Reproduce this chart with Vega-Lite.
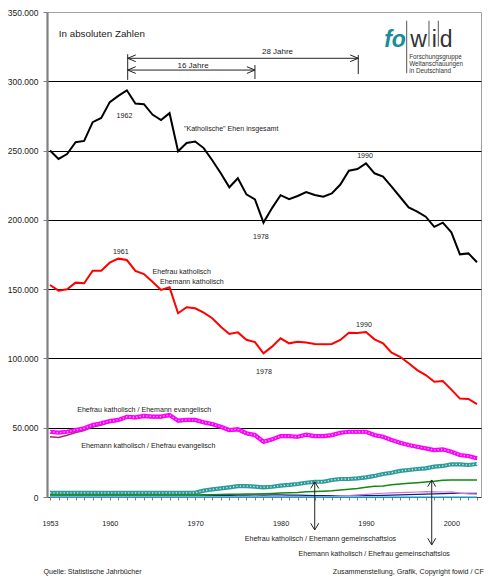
{
  "$schema": "https://vega.github.io/schema/vega-lite/v6.json",
  "width": 434,
  "height": 485,
  "autosize": {"type": "none"},
  "padding": {"left": 47, "top": 12, "right": 19, "bottom": 83},
  "background": "white",
  "config": {
    "font": "Liberation Sans",
    "view": {"stroke": "#a0a0a0", "strokeWidth": 1}
  },
  "datasets": {
    "lines": [
      {"series":"gesamt","year":1953,"value":250000},{"series":"gesamt","year":1954,"value":244000},{"series":"gesamt","year":1955,"value":247500},{"series":"gesamt","year":1956,"value":256000},{"series":"gesamt","year":1957,"value":257000},{"series":"gesamt","year":1958,"value":270500},{"series":"gesamt","year":1959,"value":273500},{"series":"gesamt","year":1960,"value":285000},{"series":"gesamt","year":1961,"value":289500},{"series":"gesamt","year":1962,"value":293500},{"series":"gesamt","year":1963,"value":284000},{"series":"gesamt","year":1964,"value":283500},{"series":"gesamt","year":1965,"value":276000},{"series":"gesamt","year":1966,"value":272000},{"series":"gesamt","year":1967,"value":277000},{"series":"gesamt","year":1968,"value":249500},{"series":"gesamt","year":1969,"value":255500},{"series":"gesamt","year":1970,"value":256500},{"series":"gesamt","year":1971,"value":251800},{"series":"gesamt","year":1972,"value":243000},{"series":"gesamt","year":1973,"value":233600},{"series":"gesamt","year":1974,"value":223500},{"series":"gesamt","year":1975,"value":230000},{"series":"gesamt","year":1976,"value":218400},{"series":"gesamt","year":1977,"value":214800},{"series":"gesamt","year":1978,"value":198000},{"series":"gesamt","year":1979,"value":208500},{"series":"gesamt","year":1980,"value":217800},{"series":"gesamt","year":1981,"value":215000},{"series":"gesamt","year":1982,"value":217200},{"series":"gesamt","year":1983,"value":220000},{"series":"gesamt","year":1984,"value":218000},{"series":"gesamt","year":1985,"value":216700},{"series":"gesamt","year":1986,"value":219100},{"series":"gesamt","year":1987,"value":225500},{"series":"gesamt","year":1988,"value":235500},{"series":"gesamt","year":1989,"value":236700},{"series":"gesamt","year":1990,"value":240800},{"series":"gesamt","year":1991,"value":233600},{"series":"gesamt","year":1992,"value":231300},{"series":"gesamt","year":1993,"value":224000},{"series":"gesamt","year":1994,"value":216500},{"series":"gesamt","year":1995,"value":209000},{"series":"gesamt","year":1996,"value":205900},{"series":"gesamt","year":1997,"value":202300},{"series":"gesamt","year":1998,"value":195000},{"series":"gesamt","year":1999,"value":198000},{"series":"gesamt","year":2000,"value":191000},{"series":"gesamt","year":2001,"value":175100},{"series":"gesamt","year":2002,"value":175800},{"series":"gesamt","year":2003,"value":169400},
      {"series":"kk","year":1953,"value":153000},{"series":"kk","year":1954,"value":148900},{"series":"kk","year":1955,"value":149900},{"series":"kk","year":1956,"value":154700},{"series":"kk","year":1957,"value":154200},{"series":"kk","year":1958,"value":163300},{"series":"kk","year":1959,"value":163300},{"series":"kk","year":1960,"value":169100},{"series":"kk","year":1961,"value":172000},{"series":"kk","year":1962,"value":171000},{"series":"kk","year":1963,"value":163100},{"series":"kk","year":1964,"value":160900},{"series":"kk","year":1965,"value":155400},{"series":"kk","year":1966,"value":149400},{"series":"kk","year":1967,"value":151300},{"series":"kk","year":1968,"value":132600},{"series":"kk","year":1969,"value":136900},{"series":"kk","year":1970,"value":136200},{"series":"kk","year":1971,"value":133000},{"series":"kk","year":1972,"value":129000},{"series":"kk","year":1973,"value":122900},{"series":"kk","year":1974,"value":117600},{"series":"kk","year":1975,"value":118800},{"series":"kk","year":1976,"value":113500},{"series":"kk","year":1977,"value":111800},{"series":"kk","year":1978,"value":103700},{"series":"kk","year":1979,"value":108500},{"series":"kk","year":1980,"value":114500},{"series":"kk","year":1981,"value":110900},{"series":"kk","year":1982,"value":112100},{"series":"kk","year":1983,"value":111500},{"series":"kk","year":1984,"value":110500},{"series":"kk","year":1985,"value":110200},{"series":"kk","year":1986,"value":110400},{"series":"kk","year":1987,"value":113300},{"series":"kk","year":1988,"value":118600},{"series":"kk","year":1989,"value":118300},{"series":"kk","year":1990,"value":119100},{"series":"kk","year":1991,"value":113800},{"series":"kk","year":1992,"value":110900},{"series":"kk","year":1993,"value":104100},{"series":"kk","year":1994,"value":101200},{"series":"kk","year":1995,"value":96500},{"series":"kk","year":1996,"value":91600},{"series":"kk","year":1997,"value":88000},{"series":"kk","year":1998,"value":83200},{"series":"kk","year":1999,"value":83700},{"series":"kk","year":2000,"value":77500},{"series":"kk","year":2001,"value":71000},{"series":"kk","year":2002,"value":70800},{"series":"kk","year":2003,"value":67100},
      {"series":"fe","year":1953,"value":47100},{"series":"fe","year":1954,"value":46400},{"series":"fe","year":1955,"value":47100},{"series":"fe","year":1956,"value":48300},{"series":"fe","year":1957,"value":49600},{"series":"fe","year":1958,"value":52000},{"series":"fe","year":1959,"value":53200},{"series":"fe","year":1960,"value":54800},{"series":"fe","year":1961,"value":55600},{"series":"fe","year":1962,"value":57900},{"series":"fe","year":1963,"value":57500},{"series":"fe","year":1964,"value":58500},{"series":"fe","year":1965,"value":58000},{"series":"fe","year":1966,"value":58000},{"series":"fe","year":1967,"value":59200},{"series":"fe","year":1968,"value":55100},{"series":"fe","year":1969,"value":55600},{"series":"fe","year":1970,"value":55600},{"series":"fe","year":1971,"value":53900},{"series":"fe","year":1972,"value":52700},{"series":"fe","year":1973,"value":50700},{"series":"fe","year":1974,"value":48300},{"series":"fe","year":1975,"value":48900},{"series":"fe","year":1976,"value":46000},{"series":"fe","year":1977,"value":44700},{"series":"fe","year":1978,"value":39900},{"series":"fe","year":1979,"value":41600},{"series":"fe","year":1980,"value":44000},{"series":"fe","year":1981,"value":44000},{"series":"fe","year":1982,"value":43500},{"series":"fe","year":1983,"value":45000},{"series":"fe","year":1984,"value":44000},{"series":"fe","year":1985,"value":44000},{"series":"fe","year":1986,"value":44700},{"series":"fe","year":1987,"value":46400},{"series":"fe","year":1988,"value":47100},{"series":"fe","year":1989,"value":47100},{"series":"fe","year":1990,"value":47100},{"series":"fe","year":1991,"value":44700},{"series":"fe","year":1992,"value":43500},{"series":"fe","year":1993,"value":41100},{"series":"fe","year":1994,"value":39200},{"series":"fe","year":1995,"value":37500},{"series":"fe","year":1996,"value":36300},{"series":"fe","year":1997,"value":35100},{"series":"fe","year":1998,"value":33900},{"series":"fe","year":1999,"value":34400},{"series":"fe","year":2000,"value":32700},{"series":"fe","year":2001,"value":30300},{"series":"fe","year":2002,"value":29600},{"series":"fe","year":2003,"value":27900},
      {"series":"me","year":1953,"value":43500},{"series":"me","year":1954,"value":43000},{"series":"me","year":1955,"value":44500},{"series":"me","year":1956,"value":46500},{"series":"me","year":1957,"value":48000},{"series":"me","year":1958,"value":50500},{"series":"me","year":1959,"value":52000},{"series":"me","year":1960,"value":53800},{"series":"me","year":1961,"value":54800},{"series":"me","year":1962,"value":57000},{"series":"me","year":1963,"value":56700},{"series":"me","year":1964,"value":57600},{"series":"me","year":1965,"value":57200},{"series":"me","year":1966,"value":57200},{"series":"me","year":1967,"value":58300},{"series":"me","year":1968,"value":54300},{"series":"me","year":1969,"value":54800},{"series":"me","year":1970,"value":54800},{"series":"me","year":1971,"value":53000},{"series":"me","year":1972,"value":51800},{"series":"me","year":1973,"value":49800},{"series":"me","year":1974,"value":47500},{"series":"me","year":1975,"value":48000},{"series":"me","year":1976,"value":45200},{"series":"me","year":1977,"value":43800},{"series":"me","year":1978,"value":39100},{"series":"me","year":1979,"value":40800},{"series":"me","year":1980,"value":43200},{"series":"me","year":1981,"value":43200},{"series":"me","year":1982,"value":42700},{"series":"me","year":1983,"value":44200},{"series":"me","year":1984,"value":43200},{"series":"me","year":1985,"value":43200},{"series":"me","year":1986,"value":43900},{"series":"me","year":1987,"value":45600},{"series":"me","year":1988,"value":46300},{"series":"me","year":1989,"value":46300},{"series":"me","year":1990,"value":46300},{"series":"me","year":1991,"value":43900},{"series":"me","year":1992,"value":42700},{"series":"me","year":1993,"value":40300},{"series":"me","year":1994,"value":38400},{"series":"me","year":1995,"value":36700},{"series":"me","year":1996,"value":35500},{"series":"me","year":1997,"value":34300},{"series":"me","year":1998,"value":33100},{"series":"me","year":1999,"value":33600},{"series":"me","year":2000,"value":31900},{"series":"me","year":2001,"value":29500},{"series":"me","year":2002,"value":28800},{"series":"me","year":2003,"value":27100},
      {"series":"fg","year":1953,"value":3000},{"series":"fg","year":1954,"value":3000},{"series":"fg","year":1955,"value":3000},{"series":"fg","year":1956,"value":3000},{"series":"fg","year":1957,"value":3000},{"series":"fg","year":1958,"value":3000},{"series":"fg","year":1959,"value":3000},{"series":"fg","year":1960,"value":3000},{"series":"fg","year":1961,"value":3000},{"series":"fg","year":1962,"value":3000},{"series":"fg","year":1963,"value":3000},{"series":"fg","year":1964,"value":3000},{"series":"fg","year":1965,"value":3000},{"series":"fg","year":1966,"value":3000},{"series":"fg","year":1967,"value":3000},{"series":"fg","year":1968,"value":3000},{"series":"fg","year":1969,"value":3000},{"series":"fg","year":1970,"value":3000},{"series":"fg","year":1971,"value":4600},{"series":"fg","year":1972,"value":5500},{"series":"fg","year":1973,"value":6200},{"series":"fg","year":1974,"value":7000},{"series":"fg","year":1975,"value":7900},{"series":"fg","year":1976,"value":7900},{"series":"fg","year":1977,"value":7500},{"series":"fg","year":1978,"value":7000},{"series":"fg","year":1979,"value":7400},{"series":"fg","year":1980,"value":8200},{"series":"fg","year":1981,"value":8700},{"series":"fg","year":1982,"value":9400},{"series":"fg","year":1983,"value":10300},{"series":"fg","year":1984,"value":11000},{"series":"fg","year":1985,"value":11000},{"series":"fg","year":1986,"value":12300},{"series":"fg","year":1987,"value":13000},{"series":"fg","year":1988,"value":13000},{"series":"fg","year":1989,"value":13500},{"series":"fg","year":1990,"value":14200},{"series":"fg","year":1991,"value":15200},{"series":"fg","year":1992,"value":16600},{"series":"fg","year":1993,"value":17500},{"series":"fg","year":1994,"value":18800},{"series":"fg","year":1995,"value":19500},{"series":"fg","year":1996,"value":20200},{"series":"fg","year":1997,"value":20700},{"series":"fg","year":1998,"value":21900},{"series":"fg","year":1999,"value":22400},{"series":"fg","year":2000,"value":23600},{"series":"fg","year":2001,"value":23600},{"series":"fg","year":2002,"value":23100},{"series":"fg","year":2003,"value":23800},
      {"series":"mg","year":1953,"value":1500},{"series":"mg","year":1954,"value":1500},{"series":"mg","year":1955,"value":1500},{"series":"mg","year":1956,"value":1500},{"series":"mg","year":1957,"value":1500},{"series":"mg","year":1958,"value":1500},{"series":"mg","year":1959,"value":1500},{"series":"mg","year":1960,"value":1500},{"series":"mg","year":1961,"value":1500},{"series":"mg","year":1962,"value":1500},{"series":"mg","year":1963,"value":1500},{"series":"mg","year":1964,"value":1500},{"series":"mg","year":1965,"value":1500},{"series":"mg","year":1966,"value":1500},{"series":"mg","year":1967,"value":1500},{"series":"mg","year":1968,"value":1500},{"series":"mg","year":1969,"value":1500},{"series":"mg","year":1970,"value":1500},{"series":"mg","year":1971,"value":1600},{"series":"mg","year":1972,"value":1700},{"series":"mg","year":1973,"value":1800},{"series":"mg","year":1974,"value":1900},{"series":"mg","year":1975,"value":2000},{"series":"mg","year":1976,"value":2100},{"series":"mg","year":1977,"value":2200},{"series":"mg","year":1978,"value":2300},{"series":"mg","year":1979,"value":2500},{"series":"mg","year":1980,"value":2800},{"series":"mg","year":1981,"value":3100},{"series":"mg","year":1982,"value":3300},{"series":"mg","year":1983,"value":3700},{"series":"mg","year":1984,"value":3900},{"series":"mg","year":1985,"value":4200},{"series":"mg","year":1986,"value":4500},{"series":"mg","year":1987,"value":5000},{"series":"mg","year":1988,"value":5600},{"series":"mg","year":1989,"value":6200},{"series":"mg","year":1990,"value":7000},{"series":"mg","year":1991,"value":7700},{"series":"mg","year":1992,"value":8000},{"series":"mg","year":1993,"value":8800},{"series":"mg","year":1994,"value":9400},{"series":"mg","year":1995,"value":9900},{"series":"mg","year":1996,"value":10300},{"series":"mg","year":1997,"value":10800},{"series":"mg","year":1998,"value":11300},{"series":"mg","year":1999,"value":12000},{"series":"mg","year":2000,"value":12300},{"series":"mg","year":2001,"value":12300},{"series":"mg","year":2002,"value":12300},{"series":"mg","year":2003,"value":12300},
      {"series":"n1","year":1953,"value":600},{"series":"n1","year":1954,"value":600},{"series":"n1","year":1955,"value":600},{"series":"n1","year":1956,"value":600},{"series":"n1","year":1957,"value":600},{"series":"n1","year":1958,"value":600},{"series":"n1","year":1959,"value":600},{"series":"n1","year":1960,"value":600},{"series":"n1","year":1961,"value":600},{"series":"n1","year":1962,"value":600},{"series":"n1","year":1963,"value":600},{"series":"n1","year":1964,"value":600},{"series":"n1","year":1965,"value":600},{"series":"n1","year":1966,"value":600},{"series":"n1","year":1967,"value":600},{"series":"n1","year":1968,"value":600},{"series":"n1","year":1969,"value":600},{"series":"n1","year":1970,"value":700},{"series":"n1","year":1971,"value":900},{"series":"n1","year":1972,"value":1000},{"series":"n1","year":1973,"value":1100},{"series":"n1","year":1974,"value":1200},{"series":"n1","year":1975,"value":1300},{"series":"n1","year":1976,"value":1400},{"series":"n1","year":1977,"value":1500},{"series":"n1","year":1978,"value":1400},{"series":"n1","year":1979,"value":1500},{"series":"n1","year":1980,"value":1600},{"series":"n1","year":1981,"value":1400},{"series":"n1","year":1982,"value":1300},{"series":"n1","year":1983,"value":1200},{"series":"n1","year":1984,"value":1100},{"series":"n1","year":1985,"value":1000},{"series":"n1","year":1986,"value":1000},{"series":"n1","year":1987,"value":900},{"series":"n1","year":1988,"value":900},{"series":"n1","year":1989,"value":900},{"series":"n1","year":1990,"value":1000},{"series":"n1","year":1991,"value":1100},{"series":"n1","year":1992,"value":1200},{"series":"n1","year":1993,"value":1300},{"series":"n1","year":1994,"value":1500},{"series":"n1","year":1995,"value":1700},{"series":"n1","year":1996,"value":1900},{"series":"n1","year":1997,"value":2100},{"series":"n1","year":1998,"value":2300},{"series":"n1","year":1999,"value":2500},{"series":"n1","year":2000,"value":2600},{"series":"n1","year":2001,"value":2700},{"series":"n1","year":2002,"value":2700},{"series":"n1","year":2003,"value":2700},
      {"series":"n2","year":1953,"value":300},{"series":"n2","year":1954,"value":300},{"series":"n2","year":1955,"value":300},{"series":"n2","year":1956,"value":300},{"series":"n2","year":1957,"value":300},{"series":"n2","year":1958,"value":300},{"series":"n2","year":1959,"value":300},{"series":"n2","year":1960,"value":300},{"series":"n2","year":1961,"value":300},{"series":"n2","year":1962,"value":300},{"series":"n2","year":1963,"value":300},{"series":"n2","year":1964,"value":300},{"series":"n2","year":1965,"value":300},{"series":"n2","year":1966,"value":300},{"series":"n2","year":1967,"value":300},{"series":"n2","year":1968,"value":300},{"series":"n2","year":1969,"value":300},{"series":"n2","year":1970,"value":300},{"series":"n2","year":1971,"value":300},{"series":"n2","year":1972,"value":300},{"series":"n2","year":1973,"value":300},{"series":"n2","year":1974,"value":300},{"series":"n2","year":1975,"value":300},{"series":"n2","year":1976,"value":300},{"series":"n2","year":1977,"value":300},{"series":"n2","year":1978,"value":300},{"series":"n2","year":1979,"value":300},{"series":"n2","year":1980,"value":300},{"series":"n2","year":1981,"value":300},{"series":"n2","year":1982,"value":300},{"series":"n2","year":1983,"value":300},{"series":"n2","year":1984,"value":300},{"series":"n2","year":1985,"value":300},{"series":"n2","year":1986,"value":500},{"series":"n2","year":1987,"value":800},{"series":"n2","year":1988,"value":1100},{"series":"n2","year":1989,"value":1500},{"series":"n2","year":1990,"value":1900},{"series":"n2","year":1991,"value":2300},{"series":"n2","year":1992,"value":2700},{"series":"n2","year":1993,"value":3000},{"series":"n2","year":1994,"value":3200},{"series":"n2","year":1995,"value":3400},{"series":"n2","year":1996,"value":3600},{"series":"n2","year":1997,"value":3900},{"series":"n2","year":1998,"value":3700},{"series":"n2","year":1999,"value":3600},{"series":"n2","year":2000,"value":3700},{"series":"n2","year":2001,"value":2800},{"series":"n2","year":2002,"value":2300},{"series":"n2","year":2003,"value":2000},
      {"series":"n3","year":1953,"value":150},{"series":"n3","year":1954,"value":150},{"series":"n3","year":1955,"value":150},{"series":"n3","year":1956,"value":150},{"series":"n3","year":1957,"value":150},{"series":"n3","year":1958,"value":150},{"series":"n3","year":1959,"value":150},{"series":"n3","year":1960,"value":150},{"series":"n3","year":1961,"value":150},{"series":"n3","year":1962,"value":150},{"series":"n3","year":1963,"value":150},{"series":"n3","year":1964,"value":150},{"series":"n3","year":1965,"value":150},{"series":"n3","year":1966,"value":150},{"series":"n3","year":1967,"value":150},{"series":"n3","year":1968,"value":150},{"series":"n3","year":1969,"value":150},{"series":"n3","year":1970,"value":150},{"series":"n3","year":1971,"value":150},{"series":"n3","year":1972,"value":150},{"series":"n3","year":1973,"value":150},{"series":"n3","year":1974,"value":150},{"series":"n3","year":1975,"value":150},{"series":"n3","year":1976,"value":150},{"series":"n3","year":1977,"value":150},{"series":"n3","year":1978,"value":150},{"series":"n3","year":1979,"value":150},{"series":"n3","year":1980,"value":150},{"series":"n3","year":1981,"value":150},{"series":"n3","year":1982,"value":150},{"series":"n3","year":1983,"value":150},{"series":"n3","year":1984,"value":150},{"series":"n3","year":1985,"value":150},{"series":"n3","year":1986,"value":150},{"series":"n3","year":1987,"value":150},{"series":"n3","year":1988,"value":150},{"series":"n3","year":1989,"value":150},{"series":"n3","year":1990,"value":150},{"series":"n3","year":1991,"value":150},{"series":"n3","year":1992,"value":150},{"series":"n3","year":1993,"value":150},{"series":"n3","year":1994,"value":150},{"series":"n3","year":1995,"value":150},{"series":"n3","year":1996,"value":150},{"series":"n3","year":1997,"value":150},{"series":"n3","year":1998,"value":150},{"series":"n3","year":1999,"value":150},{"series":"n3","year":2000,"value":150},{"series":"n3","year":2001,"value":150},{"series":"n3","year":2002,"value":150},{"series":"n3","year":2003,"value":150}
    ],
    "notes": [
      {"year":1961.72,"value":275100,"text":"1962"},
      {"year":1974.22,"value":265400,"text":"\"Katholische\" Ehen insgesamt"},
      {"year":1989.89,"value":246100,"text":"1990"},
      {"year":1977.7,"value":187900,"text":"1978"},
      {"year":1961.29,"value":177000,"text":"1961"},
      {"year":1968.42,"value":162100,"text":"Ehefrau katholisch"},
      {"year":1969.61,"value":155400,"text":"Ehemann katholisch"},
      {"year":1989.77,"value":124100,"text":"1990"},
      {"year":1978.06,"value":90000,"text":"1978"},
      {"year":1964.03,"value":62800,"text":"Ehefrau katholisch / Ehemann evangelisch"},
      {"year":1964.51,"value":36900,"text":"Ehemann katholisch / Ehefrau evangelisch"},
      {"year":1984.67,"value":-30400,"text":"Ehefrau katholisch / Ehemann gemeinschaftslos"},
      {"year":1990.96,"value":-40800,"text":"Ehemann katholisch / Ehefrau gemeinschaftslos"},
      {"year":1957.98,"value":-54100,"text":"Quelle: Statistische Jahrbücher"},
      {"year":1994.96,"value":-54100,"text":"Zusammenstellung, Grafik, Copyright fowid / CF"}
    ],
    "spans": [
      {"year":1969.75,"value":311300,"text":"16 Jahre"},
      {"year":1979.64,"value":320800,"text":"28 Jahre"}
    ],
    "heading": [
      {"year":1959.07,"value":333800,"text":"In absoluten Zahlen"}
    ],
    "segments": [
      {"year":1962.1,"value":316600,"year2":1989.1,"value2":316600},
      {"year":1962.1,"value":308100,"year2":1977.0,"value2":308100},
      {"year":1962.1,"value":301000,"year2":1962.1,"value2":319500},
      {"year":1977.0,"value":301600,"year2":1977.0,"value2":311700},
      {"year":1989.1,"value":305200,"year2":1989.1,"value2":319000},
      {"year":1984.0,"value":11000,"year2":1984.0,"value2":-23800},
      {"year":1997.7,"value":12300,"year2":1997.7,"value2":-34600}
    ],
    "heads": [
      {"year":1962.1,"value":316600,"dir":"left"},
      {"year":1962.1,"value":308100,"dir":"left"},
      {"year":1977.0,"value":308100,"dir":"right"},
      {"year":1989.1,"value":316600,"dir":"right"},
      {"year":1984.0,"value":11000,"dir":"up"},
      {"year":1997.7,"value":12300,"dir":"up"},
      {"year":1984.0,"value":-23800,"dir":"down"},
      {"year":1997.7,"value":-34600,"dir":"down"}
    ],
    "logo": [
      {"year":1993.4,"value":324700,"text":"fo","part":"fo"},
      {"year":1996.17,"value":324700,"text":"w","part":"wid"},
      {"year":1997.99,"value":324700,"text":"i","part":"wid"},
      {"year":1999.4,"value":324700,"text":"d","part":"wid"}
    ],
    "logoBars": [
      {"year":1994.77,"value":343700,"year2":1994.77,"value2":305800},
      {"year":1997.38,"value":343700,"year2":1997.38,"value2":325000},
      {"year":1998.47,"value":343700,"year2":1998.47,"value2":325000}
    ],
    "logoText": [
      {"year":1995.07,"value":317700,"text":"Forschungsgruppe"},
      {"year":1995.07,"value":312300,"text":"Weltanschauungen"},
      {"year":1995.07,"value":307300,"text":"in Deutschland"}
    ]
  },
  "encoding": {
    "x": {
      "field": "year", "type": "quantitative",
      "scale": {"domain": [1952.65, 2003.47], "nice": false, "zero": false},
      "axis": {
        "title": null,
        "values": [1953,1954,1955,1956,1957,1958,1959,1960,1961,1962,1963,1964,1965,1966,1967,1968,1969,1970,1971,1972,1973,1974,1975,1976,1977,1978,1979,1980,1981,1982,1983,1984,1985,1986,1987,1988,1989,1990,1991,1992,1993,1994,1995,1996,1997,1998,1999,2000,2001,2002,2003],
        "labelExpr": "(datum.value == 1953 || datum.value % 10 == 0) ? '' + datum.value : ''",
        "labelFont": "Liberation Sans", "labelFontSize": 7.3, "labelColor": "#222",
        "labelPadding": 19, "labelDx": 2, "labelOverlap": false, "labelFlush": false,
        "tickSize": 3, "tickColor": "#808080", "domainColor": "#404040", "domainWidth": 1,
        "grid": false
      }
    },
    "y": {
      "field": "value", "type": "quantitative",
      "scale": {"domain": [0, 350000], "nice": false, "zero": false},
      "axis": {
        "title": null,
        "values": [0,50000,100000,150000,200000,250000,300000,350000],
        "labelExpr": "replace(format(datum.value, ',d'), ',', '.')",
        "labelFont": "Liberation Sans", "labelFontSize": 8.5, "labelColor": "#222",
        "labelPadding": 5, "tickSize": 4, "tickColor": "#808080",
        "domainColor": "#808080", "domainWidth": 2.2,
        "grid": true,
        "gridColor": {"condition": {"test": "datum.value == 0 || datum.value == 350000", "value": "transparent"}, "value": "#000000"},
        "gridWidth": 1
      }
    }
  },
  "layer": [
    {
      "data": {"values": [{}]},
      "mark": {"type": "rect", "filled": false, "color": "#cccccc", "strokeWidth": 2},
      "encoding": {
        "x": {"datum": 1947.4}, "x2": {"datum": 2004.52},
        "y": {"datum": 357200}, "y2": {"datum": -58450}
      }
    },
    {
      "data": {"name": "lines"},
      "transform": [{"filter": {"field": "series", "oneOf": ["n1","n2","n3"]}}],
      "mark": {"type": "line", "strokeWidth": 1.2},
      "encoding": {
        "color": {"field": "series", "type": "nominal", "legend": null,
          "scale": {"domain": ["n1","n2","n3"], "range": ["#1a1a80","#cc77cc","#33ccff"]}}
      }
    },
    {
      "data": {"name": "lines"},
      "transform": [{"filter": "datum.series == 'fg'"}],
      "mark": {"type": "line", "color": "#2e9a9a", "strokeWidth": 4.2}
    },
    {
      "data": {"name": "lines"},
      "transform": [{"filter": "datum.series == 'fg'"}],
      "mark": {"type": "line", "color": "#d6f2f2", "strokeWidth": 1.3, "strokeDash": [1.2, 2.2]}
    },
    {
      "data": {"name": "lines"},
      "transform": [{"filter": "datum.series == 'mg'"}],
      "mark": {"type": "line", "color": "#108a10", "strokeWidth": 1.5}
    },
    {
      "data": {"name": "lines"},
      "transform": [{"filter": "datum.series == 'me'"}],
      "mark": {"type": "line", "color": "#993366", "strokeWidth": 1.5}
    },
    {
      "data": {"name": "lines"},
      "transform": [{"filter": "datum.series == 'fe'"}],
      "mark": {"type": "line", "color": "#ff00ff", "strokeWidth": 4.2}
    },
    {
      "data": {"name": "lines"},
      "transform": [{"filter": "datum.series == 'fe'"}],
      "mark": {"type": "line", "color": "#ffc4ff", "strokeWidth": 1.3, "strokeDash": [1.2, 2.2]}
    },
    {
      "data": {"name": "lines"},
      "transform": [{"filter": "datum.series == 'kk'"}],
      "mark": {"type": "line", "color": "#ff0000", "strokeWidth": 2}
    },
    {
      "data": {"name": "lines"},
      "transform": [{"filter": "datum.series == 'gesamt'"}],
      "mark": {"type": "line", "color": "#000000", "strokeWidth": 2}
    },
    {
      "data": {"name": "segments"},
      "mark": {"type": "rule", "color": "#222222", "strokeWidth": 1},
      "encoding": {"x2": {"field": "year2"}, "y2": {"field": "value2"}}
    },
    {
      "data": {"name": "heads"},
      "mark": {"type": "point", "filled": false, "color": "#222222", "strokeWidth": 1, "opacity": 1, "size": 180},
      "encoding": {
        "shape": {"field": "dir", "type": "nominal", "legend": null,
          "scale": {"domain": ["left","right","up","down"],
            "range": ["M1.2,-0.5L0,0L1.2,0.5", "M-1.2,-0.5L0,0L-1.2,0.5", "M-0.6,1L0,0L0.6,1", "M-0.6,-1L0,0L0.6,-1"]}}
      }
    },
    {
      "data": {"name": "notes"},
      "mark": {"type": "text", "font": "Liberation Sans", "fontSize": 7.1, "color": "#222222", "align": "center", "baseline": "middle"},
      "encoding": {"text": {"field": "text"}}
    },
    {
      "data": {"name": "spans"},
      "mark": {"type": "text", "font": "Liberation Sans", "fontSize": 8, "color": "#222222", "align": "center", "baseline": "middle"},
      "encoding": {"text": {"field": "text"}}
    },
    {
      "data": {"name": "heading"},
      "mark": {"type": "text", "font": "Liberation Sans", "fontSize": 9.8, "color": "#222222", "align": "center", "baseline": "middle"},
      "encoding": {"text": {"field": "text"}}
    },
    {
      "data": {"name": "logoBars"},
      "mark": {"type": "rule", "color": "#555555", "strokeWidth": 1},
      "encoding": {"x2": {"field": "year2"}, "y2": {"field": "value2"}}
    },
    {
      "data": {"name": "logo"},
      "transform": [{"filter": "datum.part == 'fo'"}],
      "mark": {"type": "text", "font": "Liberation Sans", "fontSize": 23, "fontWeight": "bold", "fontStyle": "italic", "color": "#1b8c99", "align": "center", "baseline": "alphabetic"},
      "encoding": {"text": {"field": "text"}}
    },
    {
      "data": {"name": "logo"},
      "transform": [{"filter": "datum.part == 'wid'"}],
      "mark": {"type": "text", "font": "Liberation Sans", "fontSize": 23, "color": "#333333", "align": "center", "baseline": "alphabetic"},
      "encoding": {"text": {"field": "text"}}
    },
    {
      "data": {"name": "logoText"},
      "mark": {"type": "text", "font": "Liberation Sans", "fontSize": 6.3, "color": "#333333", "align": "left", "baseline": "middle"},
      "encoding": {"text": {"field": "text"}}
    }
  ]
}
